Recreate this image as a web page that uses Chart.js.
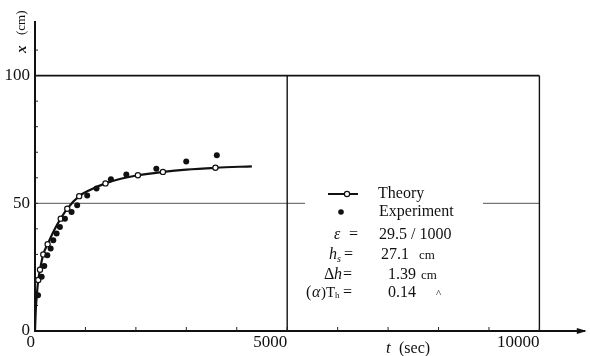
<!DOCTYPE html>
<html>
<head>
<meta charset="utf-8">
<script src="https://cdn.jsdelivr.net/npm/chart.js@4.4.0/dist/chart.umd.min.js"></script>
<style>
  html, body { margin: 0; padding: 0; background: #fff; }
  #wrap { width: 590px; height: 356px; position: relative; }
</style>
</head>
<body>
<div id="wrap"><canvas id="myChart"></canvas></div>
<script>
// theory curve (smooth line)
const theoryT = [0, 15, 40, 65, 99, 164, 250, 380, 510, 640, 876, 1100, 1397, 1700, 2040, 2536, 3000, 3577, 4300];
const theoryX = [0, 8, 15, 20, 24, 30, 34, 39.5, 44, 47.9, 52.8, 55.3, 57.8, 59.6, 61, 62.3, 63.2, 63.9, 64.5];
// open circles on the theory curve
const markT = [65, 99, 164, 250, 510, 640, 876, 1397, 2040, 2536, 3577];
const markX = [20, 24, 30, 34, 44, 47.9, 52.8, 57.8, 61, 62.3, 63.9];
// experiment (filled dots)
const expT = [60, 132, 184, 244, 310, 362, 428, 494, 593, 725, 836, 1035, 1220, 1505, 1810, 2405, 2998, 3605];
const expX = [14, 21.2, 25.5, 29.7, 32.3, 35.5, 38.2, 40.7, 44, 46.6, 49.2, 53.1, 55.8, 59.4, 61.3, 63.5, 66.4, 68.8];

const xTicks = [0, 5000, 10000];
const yTicks = [0, 50, 100];

const serif = '"Liberation Serif", "DejaVu Serif", serif';

function pts(a, b) {
  return a.map((v, i) => ({ x: v, y: b[i] }));
}

let extras = {
  id: 'extras',
  beforeDatasetsDraw(chart) {
    const ctx = chart.ctx;
    const xs = chart.scales.x, ys = chart.scales.y;
    const x0 = xs.getPixelForValue(0), x5 = xs.getPixelForValue(5000), x10 = xs.getPixelForValue(10000);
    const y0 = ys.getPixelForValue(0), y50 = ys.getPixelForValue(50), y100 = ys.getPixelForValue(100);
    ctx.save();
    // line at 100
    ctx.strokeStyle = '#111';
    ctx.lineWidth = 1.6;
    ctx.beginPath(); ctx.moveTo(x0, y100); ctx.lineTo(x10, y100); ctx.stroke();
    // line at 50 (thin)
    ctx.strokeStyle = '#555';
    ctx.lineWidth = 1;
    ctx.beginPath(); ctx.moveTo(x0, y50); ctx.lineTo(x10, y50); ctx.stroke();
    // verticals
    ctx.strokeStyle = '#111';
    ctx.lineWidth = 1.4;
    [x5, x10].forEach(px => {
      ctx.beginPath(); ctx.moveTo(px, y100); ctx.lineTo(px, y0); ctx.stroke();
    });
    // legend blank area
    ctx.fillStyle = '#fff';
    ctx.fillRect(305, 182, 178, 120);
    // minor ticks
    ctx.strokeStyle = '#222';
    ctx.lineWidth = 1;
    for (let t = 1000; t <= 10000; t += 1000) {
      const px = xs.getPixelForValue(t);
      ctx.beginPath(); ctx.moveTo(px, y0); ctx.lineTo(px, y0 - 4); ctx.stroke();
    }
    for (let v = 10; v <= 110; v += 10) {
      const py = ys.getPixelForValue(v);
      ctx.beginPath(); ctx.moveTo(x0, py); ctx.lineTo(x0 + 3, py); ctx.stroke();
    }
    // arrow at end of x axis
    const xr = chart.chartArea.right;
    ctx.fillStyle = '#111';
    ctx.beginPath();
    ctx.moveTo(xr + 2, y0); ctx.lineTo(xr - 8, y0 - 3); ctx.lineTo(xr - 8, y0 + 3); ctx.closePath();
    ctx.fill();
    ctx.restore();
  },
  afterDatasetsDraw(chart) {
    const ctx = chart.ctx;
    ctx.save();
    ctx.fillStyle = '#111';
    ctx.strokeStyle = '#111';
    ctx.textBaseline = 'middle';
    ctx.textAlign = 'left';
    // Theory sample
    ctx.lineWidth = 2;
    ctx.beginPath(); ctx.moveTo(328, 194); ctx.lineTo(358, 194); ctx.stroke();
    ctx.beginPath(); ctx.arc(347, 194, 2.6, 0, Math.PI * 2);
    ctx.fillStyle = '#fff'; ctx.fill(); ctx.lineWidth = 1.2; ctx.stroke();
    ctx.fillStyle = '#111';
    ctx.font = '16px ' + serif;
    ctx.fillText('Theory', 378, 194);
    // Experiment sample
    ctx.beginPath(); ctx.arc(341, 212, 2.8, 0, Math.PI * 2); ctx.fill();
    ctx.fillText('Experiment', 379, 212);
    // parameters
    ctx.font = 'italic 16px ' + serif;
    ctx.fillText('\u03b5', 334, 235);
    ctx.font = '16px ' + serif;
    ctx.fillText('=', 349, 235);
    ctx.fillText('29.5 / 1000', 379, 235);

    ctx.font = 'italic 16px ' + serif;
    ctx.fillText('h', 329, 255);
    ctx.font = 'italic 10px ' + serif;
    ctx.fillText('s', 337, 259);
    ctx.font = '16px ' + serif;
    ctx.fillText('=', 344, 255);
    ctx.fillText('27.1', 381, 255);
    ctx.font = '13px ' + serif;
    ctx.fillText('cm', 419, 256);

    ctx.font = '16px ' + serif;
    ctx.fillText('\u0394', 324, 275);
    ctx.font = 'italic 16px ' + serif;
    ctx.fillText('h', 334, 275);
    ctx.font = '16px ' + serif;
    ctx.fillText('=', 343, 275);
    ctx.fillText('1.39', 388, 275);
    ctx.font = '13px ' + serif;
    ctx.fillText('cm', 421, 276);

    ctx.font = '16px ' + serif;
    ctx.fillText('(', 306, 293);
    ctx.font = 'italic 16px ' + serif;
    ctx.fillText('\u03b1', 312, 293);
    ctx.font = '15px ' + serif;
    ctx.fillText(')T', 321, 293);
    ctx.font = '9px ' + serif;
    ctx.fillText('h', 335, 296);
    ctx.font = '16px ' + serif;
    ctx.fillText('=', 343, 293);
    ctx.fillText('0.14', 388, 293);
    ctx.font = '11px ' + serif;
    ctx.fillText('^', 436, 294);

    // axis titles
    ctx.font = 'italic 17px ' + serif;
    ctx.fillText('t', 386, 349);
    ctx.font = '16px ' + serif;
    ctx.fillText('(sec)', 399, 349);

    ctx.translate(22, 33);
    ctx.rotate(-Math.PI / 2);
    ctx.textAlign = 'left';
    ctx.font = 'italic bold 15px ' + serif;
    ctx.fillText('x', -20, 0);
    ctx.font = '13px ' + serif;
    ctx.fillText('(cm)', -2, 0);
    ctx.restore();
  }
};

let ctxEl = document.getElementById('myChart').getContext('2d');

let flowChart = new Chart(ctxEl, {
  type: 'scatter',
  data: {
    datasets: [{
      label: 'Theory',
      data: pts(theoryT, theoryX),
      showLine: true,
      borderColor: '#111',
      borderWidth: 2.2,
      pointRadius: 0,
      cubicInterpolationMode: 'monotone',
      order: 2
    }, {
      label: 'Theory points',
      data: pts(markT, markX),
      pointRadius: 2.6,
      pointBackgroundColor: '#fff',
      pointBorderColor: '#111',
      pointBorderWidth: 1.2,
      order: 1
    }, {
      label: 'Experiment',
      data: pts(expT, expX),
      pointRadius: 3,
      pointBackgroundColor: '#111',
      pointBorderColor: '#111',
      pointBorderWidth: 0,
      order: 0
    }]
  },
  options: {
    responsive: true,
    maintainAspectRatio: false,
    animation: false,
    layout: { padding: { top: 22, right: 2, left: 0, bottom: 0 } },
    plugins: { legend: { display: false }, tooltip: { enabled: false } },
    scales: {
      x: {
        type: 'linear', min: 0, max: 10900,
        afterBuildTicks: s => { s.ticks = xTicks.map(v => ({ value: v })); },
        afterFit: s => { s.height = 25; },
        grid: { display: false, drawTicks: false },
        border: { display: true, color: '#111', width: 2 },
        ticks: { color: '#111', font: { family: serif, size: 17 }, padding: 1, align: 'end', maxRotation: 0, callback: v => String(v) }
      },
      y: {
        type: 'linear', min: 0, max: 121,
        afterBuildTicks: s => { s.ticks = yTicks.map(v => ({ value: v })); },
        afterFit: s => { s.width = 35; },
        grid: { display: false, drawTicks: false },
        border: { display: true, color: '#111', width: 2 },
        ticks: { color: '#111', font: { family: serif, size: 17 }, padding: 5, callback: v => String(v) }
      }
    }
  },
  plugins: [extras]
});
</script>
</body>
</html>
